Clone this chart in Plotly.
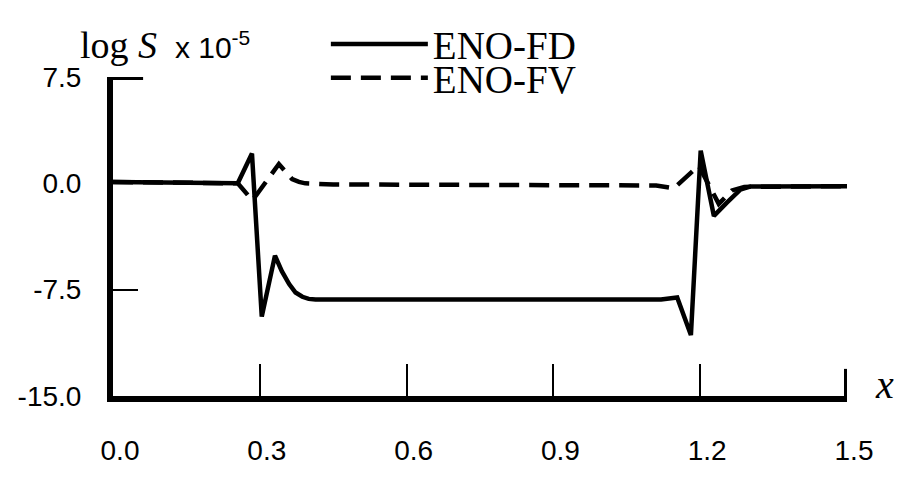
import plotly.graph_objects as go

# ---- data ----
series_names = ["ENO-FD", "ENO-FV"]

fd_x = [0.0, 0.1, 0.2, 0.255, 0.284, 0.304, 0.331, 0.345, 0.36, 0.373, 0.387, 0.40, 0.414,
        0.8, 1.12, 1.153, 1.181, 1.201, 1.228, 1.255, 1.27, 1.282, 1.303, 1.5]
fd_y = [0.1, 0.08, 0.03, 0.0, 2.1, -9.4, -5.1, -6.2, -7.1, -7.7, -8.0, -8.15, -8.2,
        -8.2, -8.2, -8.05, -10.7, 2.3, -2.3, -1.35, -0.8, -0.45, -0.22, -0.2]

fv_x = [0.0, 0.2, 0.255, 0.285, 0.339, 0.352, 0.366, 0.38, 0.393, 0.45, 0.8, 1.11, 1.146,
        1.197, 1.238, 1.265, 1.29, 1.5]
fv_y = [0.1, 0.03, 0.0, -1.2, 1.36, 0.85, 0.3, 0.1, 0.0, -0.08, -0.12, -0.15, -0.35,
        1.25, -1.45, -0.5, -0.25, -0.2]

x_ticks = [0.0, 0.3, 0.6, 0.9, 1.2, 1.5]
x_tick_labels = ["0.0", "0.3", "0.6", "0.9", "1.2", "1.5"]
y_ticks = [-15.0, -7.5, 0.0, 7.5]
y_tick_labels = ["-15.0", "-7.5", "0.0", "7.5"]

SERIF = "Liberation Serif, Times New Roman, serif"
SANS = "Liberation Sans, Arial, Helvetica, sans-serif"

fig = go.Figure()
fig.add_trace(go.Scatter(x=fd_x, y=fd_y, mode="lines", name=series_names[0],
                         line=dict(color="black", width=4.5), legend="legend"))
fig.add_trace(go.Scatter(x=fv_x, y=fv_y, mode="lines", name=series_names[1],
                         line=dict(color="black", width=4.5, dash="20px,10px"),
                         legend="legend2"))

leg_common = dict(font=dict(family=SERIF, size=39, color="black"), bgcolor="rgba(0,0,0,0)",
                  itemwidth=97, xanchor="left", yanchor="middle", borderwidth=0)
fig.update_layout(
    width=898, height=478,
    margin=dict(l=113, r=51, t=70, b=66),
    paper_bgcolor="white", plot_bgcolor="white",
    showlegend=True,
    legend=dict(x=0.29, y=1.103, **leg_common),
    legend2=dict(x=0.29, y=0.997, **leg_common),
    xaxis=dict(range=[0, 1.5], tickvals=x_ticks, ticktext=x_tick_labels,
               showgrid=False, zeroline=False, showline=True, linecolor="black", linewidth=6,
               ticks="inside", ticklen=32, tickwidth=2, tickcolor="black",
               ticklabelstandoff=24, ticklabelshift=7,
               tickfont=dict(family=SANS, size=28, color="black")),
    yaxis=dict(range=[-15, 7.5], tickvals=y_ticks, ticktext=y_tick_labels,
               showgrid=False, zeroline=False, showline=True, linecolor="black", linewidth=6,
               ticks="inside", ticklen=25, tickwidth=2, tickcolor="black",
               ticklabelstandoff=20,
               tickfont=dict(family=SANS, size=28, color="black")),
)

# axis end decorations: top cap on y axis, end bar on x axis
fig.add_shape(type="line", xref="paper", yref="y", x0=-0.004, x1=0.041, y0=7.5, y1=7.5,
              line=dict(color="black", width=6))
fig.add_shape(type="line", xref="x", yref="paper", x0=1.5, x1=1.5, y0=0, y1=0.085,
              line=dict(color="black", width=6))

# axis titles
fig.add_annotation(xref="paper", yref="paper", x=-0.048, y=1.1, xanchor="left", yanchor="middle",
                   showarrow=False,
                   text=('<span style="font-family:Liberation Serif;font-size:38px">log <i>S</i>&nbsp;</span>'
                         ' x 10<sup>-5</sup>'),
                   font=dict(family=SANS, size=30, color="black"))
fig.add_annotation(xref="paper", yref="paper", x=1.035, y=0.035, xanchor="left", yanchor="middle",
                   showarrow=False, text="<i>x</i>",
                   font=dict(family=SERIF, size=40, color="black"))

fig.write_html("out.html")
